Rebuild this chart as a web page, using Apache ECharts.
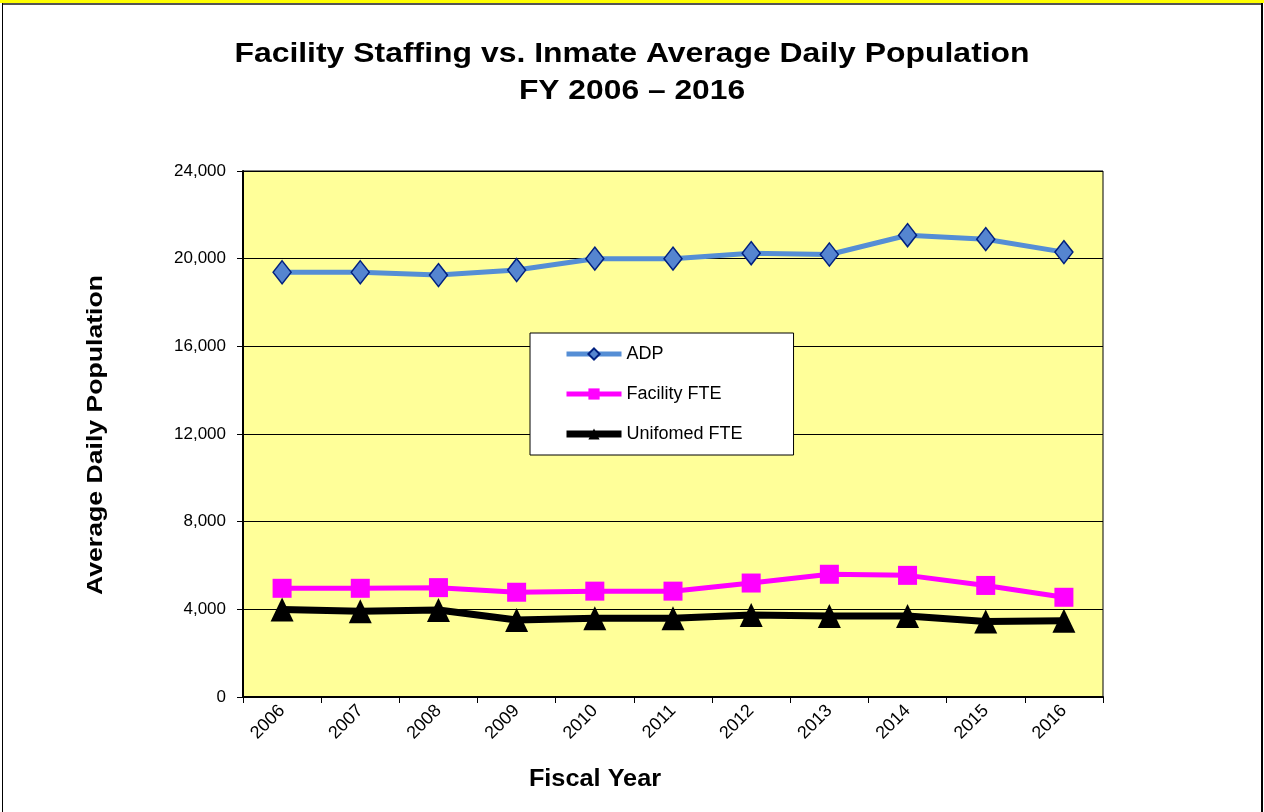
<!DOCTYPE html>
<html>
<head>
<meta charset="utf-8">
<script src="https://cdn.jsdelivr.net/npm/echarts@6/dist/echarts.min.js"></script>
<style>
  html, body { margin: 0; padding: 0; background: #fff; }
  #frame { position: relative; width: 1264px; height: 812px; overflow: hidden; }
  #chart { position: absolute; left: 0; top: 0; width: 1264px; height: 812px; }
  .ln { position: absolute; }
</style>
</head>
<body>
<div id="frame">
  <div id="chart"></div>
  <div class="ln" style="left:0;top:0;width:1264px;height:3px;background:#ffff00"></div>
  <div class="ln" style="left:2px;top:3px;width:1260px;height:2px;background:#555"></div>
  <div class="ln" style="left:2px;top:3px;width:1px;height:809px;background:#000"></div>
  <div class="ln" style="left:1261px;top:3px;width:2px;height:809px;background:#000"></div>
</div>
<script>
    // 财年
    var years = ['2006', '2007', '2008', '2009', '2010', '2011', '2012', '2013', '2014', '2015', '2016'];
    // 日均在押人数
    var adp = [19380, 19380, 19250, 19480, 20000, 20000, 20250, 20190, 21070, 20890, 20300];
    // 设施员工
    var facilityFte = [4960, 4960, 4990, 4780, 4830, 4830, 5200, 5600, 5550, 5090, 4550];
    // 制服员工
    var uniformedFte = [3990, 3910, 3970, 3510, 3590, 3590, 3740, 3700, 3700, 3440, 3480];
    var yTicks = [0, 4000, 8000, 12000, 16000, 20000, 24000];

    var FONT = '"Liberation Sans", Arial, sans-serif';
    var myChart = echarts.init(document.getElementById('chart'));

    // 粗体文字比 Liberation 宽一些，用 scaleX 拉一下
    function boldText(text, x, y, size, sx, rot) {
        return {
            type: 'text',
            x: x,
            y: y,
            rotation: rot || 0,
            scaleX: sx,
            style: {
                text: text,
                fontFamily: FONT,
                fontSize: size,
                fontWeight: 'bold',
                fill: '#000',
                textAlign: 'center',
                textVerticalAlign: 'middle'
            }
        };
    }

    var option = {
        backgroundColor: '#fff',
        animation: false,
        textStyle: { fontFamily: FONT },
        graphic: [
            boldText('Facility Staffing vs. Inmate Average Daily Population', 632, 54, 28, 1.14),
            boldText('FY 2006 \u2013 2016', 632, 91, 28, 1.135),
            boldText('Fiscal Year', 595, 780, 23, 1.1),
            boldText('Average Daily Population', 96, 435, 22, 1.21, Math.PI / 2)
        ],
        legend: {
            orient: 'vertical',
            left: 530,
            top: 333,
            padding: [12, 51, 12, 33],
            itemGap: 22,
            itemWidth: 55,
            itemHeight: 14,
            backgroundColor: '#fff',
            borderColor: '#000',
            borderWidth: 1,
            lineStyle: { width: 'inherit' },
            textStyle: { fontSize: 18, color: '#000' },
            data: ['ADP', 'Facility FTE', 'Unifomed FTE']
        },
        grid: {
            left: 243,
            right: 161,
            top: 171,
            bottom: 115,
            show: true,
            backgroundColor: '#ffff99',
            borderColor: '#000',
            borderWidth: 1
        },
        xAxis: {
            type: 'category',
            data: years,
            boundaryGap: true,
            axisLine: { lineStyle: { color: '#000', width: 2 } },
            axisTick: { show: true, length: 6, inside: false, lineStyle: { color: '#000' } },
            axisLabel: { rotate: 45, fontSize: 18, color: '#000', margin: 11 },
            splitLine: { show: false }
        },
        yAxis: {
            type: 'value',
            min: yTicks[0],
            max: yTicks[yTicks.length - 1],
            interval: 4000,
            axisLine: { show: true, lineStyle: { color: '#000', width: 2 } },
            axisTick: { show: true, length: 6, lineStyle: { color: '#000' } },
            axisLabel: {
                fontSize: 17, color: '#000', margin: 17,
                formatter: function (v) { return v.toLocaleString('en-US'); }
            },
            splitLine: { show: true, lineStyle: { color: '#000', width: 1 } }
        },
        series: [
            {
                name: 'ADP',
                type: 'line',
                data: adp,
                symbol: 'diamond',
                symbolSize: [18, 23],
                lineStyle: { color: '#558ed5', width: 5 },
                itemStyle: { color: '#5585d0', borderColor: '#00207f', borderWidth: 1.5 }
            },
            {
                name: 'Facility FTE',
                type: 'line',
                data: facilityFte,
                symbol: 'rect',
                symbolSize: 19,
                lineStyle: { color: '#ff00ff', width: 5 },
                itemStyle: { color: '#ff00ff', borderWidth: 0 }
            },
            {
                name: 'Unifomed FTE',
                type: 'line',
                data: uniformedFte,
                symbol: 'triangle',
                symbolSize: [23, 24],
                lineStyle: { color: '#000', width: 7 },
                itemStyle: { color: '#000', borderWidth: 0 }
            }
        ]
    };

    myChart.setOption(option);
</script>
</body>
</html>
